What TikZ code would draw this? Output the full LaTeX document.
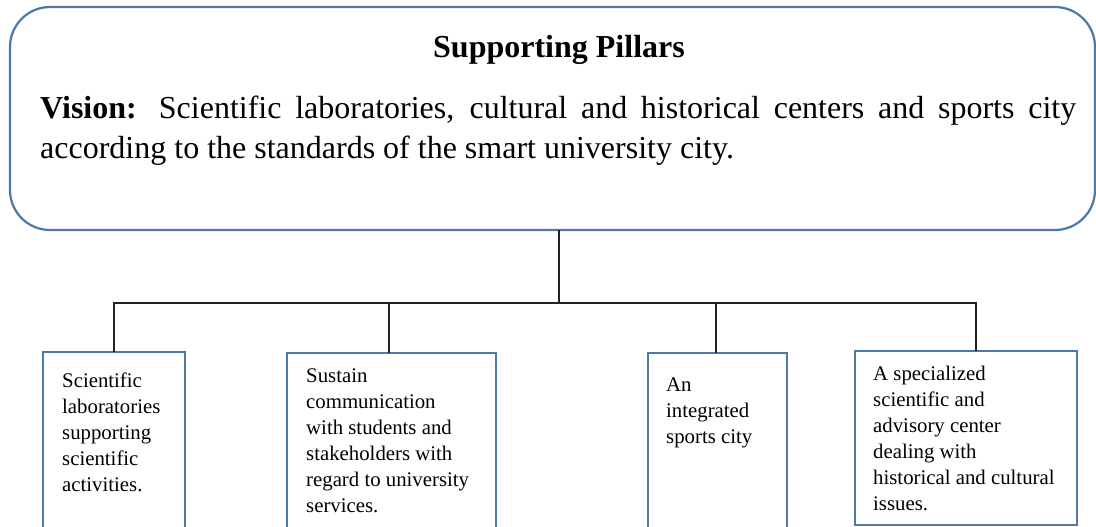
\documentclass[tikz,border=0pt]{standalone}
\usepackage{fontspec}
\setmainfont{Liberation Serif}
\definecolor{boxblue}{HTML}{4E79A7}
\definecolor{linegray}{HTML}{222222}
\tikzset{
  x=1pt, y=-1pt,
  pillar/.style={draw=boxblue, line width=2.2pt, anchor=north west, inner sep=0pt},
  conn/.style={draw=linegray, line width=2pt},
  smalltext/.style={font=\fontsize{20.8}{26}\selectfont, align=left, anchor=north west, inner sep=0pt},
}
\begin{document}
\begin{tikzpicture}
\useasboundingbox (0,0) rectangle (1096,527);
\begin{scope}
\clip (0,0) rectangle (1096,527);
% top box
\draw[draw=boxblue, line width=2.2pt, rounded corners=40pt] (10,7) rectangle (1095,230);
\node[font=\fontsize{32}{38}\selectfont\bfseries, anchor=base] (title) at (559,58) {Supporting Pillars};
\node[font=\fontsize{32}{40}\selectfont, text width=1036pt, align=justify, anchor=north west, inner sep=0pt] (vision) at (40,96)
  {\textbf{Vision:} Scientific laboratories, cultural and historical centers and sports city\linebreak according to the standards of the smart university city.};
% bottom boxes
\draw[pillar] (43,352) rectangle (185,540);
\draw[pillar] (287,353) rectangle (496,540);
\draw[pillar] (648,353) rectangle (787,540);
\draw[pillar] (855,351) rectangle (1077,525);
\coordinate (b1) at (114,352);
\coordinate (b2) at (389,353);
\coordinate (b3) at (716,353);
\coordinate (b4) at (976,351);
\coordinate (top) at (559,230);
\coordinate (hub) at (559,303);
\draw[conn] (top) -- (hub);
\draw[conn] (b1) -- (114,303) -- (976,303) -- (b4);
\draw[conn] (389,303) -- (b2);
\draw[conn] (716,303) -- (b3);
\node[smalltext] (t1) at (62,373) {Scientific\\laboratories\\supporting\\scientific\\activities.};
\node[smalltext] (t2) at (306,369) {Sustain\\communication\\with students and\\stakeholders with\\regard to university\\services.};
\node[smalltext] (t3) at (666,378) {An\\integrated\\sports city};
\node[smalltext] (t4) at (873,366) {A specialized\\scientific and\\advisory center\\dealing with\\historical and cultural\\issues.};
\end{scope}
\end{tikzpicture}
\end{document}
